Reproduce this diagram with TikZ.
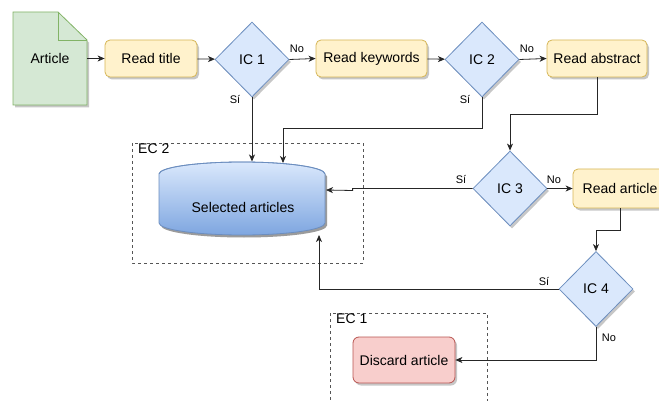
\documentclass[tikz,border=0pt]{standalone}
\usepackage{fontspec}
\setmainfont{Liberation Sans}
\usetikzlibrary{shapes.geometric,arrows.meta,shadows,calc}

\definecolor{notefill}{HTML}{D5E8D4}
\definecolor{notedraw}{HTML}{82B366}
\definecolor{procfill}{HTML}{FFF2CC}
\definecolor{procdraw}{HTML}{D6B656}
\definecolor{decfill}{HTML}{DAE8FC}
\definecolor{decdraw}{HTML}{6C8EBF}
\definecolor{dbbottom}{HTML}{7EA6E0}
\definecolor{redfill}{HTML}{F8CECC}
\definecolor{reddraw}{HTML}{B85450}
\definecolor{groupdraw}{HTML}{555555}

\tikzset{
  x=1pt, y=-1pt,
  shade/.style={drop shadow={shadow xshift=2pt, shadow yshift=-2.5pt, opacity=0.22, fill=black}},
  proc/.style={draw=procdraw, fill=procfill, rounded corners=5pt, line width=0.8pt,
    minimum height=37pt, inner sep=0pt, font=\fontsize{14}{16}\selectfont, shade},
  decision/.style={diamond, draw=decdraw, fill=decfill, line width=0.8pt,
    minimum width=74pt, minimum height=75pt, inner sep=0pt,
    font=\fontsize{14}{16}\selectfont, shade},
  discard/.style={draw=reddraw, fill=redfill, rounded corners=6pt, line width=0.8pt,
    minimum width=102pt, minimum height=46pt, inner sep=0pt,
    font=\fontsize{14}{16}\selectfont, shade},
  group/.style={draw=groupdraw, dashed, dash pattern=on 3pt off 3pt, line width=0.7pt},
  grouplabel/.style={anchor=north west, inner sep=0pt, font=\fontsize{14}{16}\selectfont},
  flow/.style={draw=black!85, line width=0.8pt, -{Stealth[length=7pt,width=6pt,inset=2pt]}},
  edgelabel/.style={inner sep=0pt, font=\fontsize{11}{12}\selectfont},
}

\begin{document}
\begin{tikzpicture}
\useasboundingbox (0,0) rectangle (659,401);

% ---- groups ----
\draw[group] (132,143) rectangle (363,263);
\node[grouplabel] (ec2) at (138,143.5) {EC 2};
\draw[group] (330,313) rectangle (487,420);
\node[grouplabel] (ec1) at (336,313.5) {EC 1};

% ---- document note ----
\draw[draw=notedraw, fill=notefill, line width=0.8pt, shade]
  (13,12) -- (58,12) -- (87,40) -- (87,105) -- (13,105) -- cycle;
\draw[draw=notedraw, line width=0.8pt] (58,12) -- (58,40) -- (87,40);
\node[minimum width=74pt, minimum height=93pt, inner sep=0pt,
      font=\fontsize{14}{16}\selectfont] (art) at (50,58.5) {\raisebox{0pt}{Article}};

% ---- process steps and decisions ----
\node[proc, minimum width=92pt] (rt) at (151,58.5) {Read title};
\node[decision] (ic1) at (252,59.5) {IC 1};
\node[proc, minimum width=111pt] (rk) at (371.5,58.5) {Read keywords};
\node[decision] (ic2) at (482,59.5) {IC 2};
\node[proc, minimum width=100pt] (ra) at (597,58.5) {Read abstract};
\node[decision] (ic3) at (510,188.5) {IC 3};
\node[proc, minimum width=94pt, minimum height=39pt] (rd) at (620,188.5) {Read article};
\node[decision] (ic4) at (596,289) {IC 4};
\node[discard] (dis) at (404,360) {Discard article};

% ---- database cylinder ----
\shade[top color=decfill, bottom color=dbbottom, drop shadow={shadow xshift=2pt, shadow yshift=-2.5pt, opacity=0.22, fill=black}]
  (159,174) -- (159,223) arc[start angle=180, end angle=360, x radius=83, y radius=-12]
  -- (325,174) arc[start angle=0, end angle=180, x radius=83, y radius=-12] -- cycle;
\draw[decdraw, line width=0.8pt]
  (159,174) -- (159,223) arc[start angle=180, end angle=360, x radius=83, y radius=-12]
  -- (325,174) arc[start angle=0, end angle=180, x radius=83, y radius=-12] -- cycle;
\draw[decdraw, line width=0.8pt]
  (159,174) arc[start angle=180, end angle=360, x radius=83, y radius=12];
\node[minimum width=166pt, minimum height=50pt, inner sep=0pt,
      font=\fontsize{14}{16}\selectfont] (sel) at (243,207) {Selected articles};

% attachment points on the cylinder
\coordinate (selT1) at (252,161.5);
\coordinate (selT2) at (283,163);
\coordinate (selR) at (326,190);
\coordinate (selB) at (319,235);

% ---- connectors ----
\draw[flow] (87,58.5) -- (rt.west);
\draw[flow] (rt) -- (ic1);
\draw[flow] (ic1.east) -- (rk.west);
\draw[flow] (rk) -- (ic2);
\draw[flow] (ic2.east) -- (ra.west);
\draw[flow] (ra.south) -- ++(0,37) -| (ic3.north);
\draw[flow] (ic1.south) -- (selT1);
\draw[flow] (ic2.south) -- ++(0,31) -| (selT2);
\draw[flow] (ic3.west) -- ++(-120,0) -- ++(0,2) -- (selR);
\draw[flow] (ic3.east) -- (rd.west);
\draw[flow] (rd.south) -- ++(0,22) -| (ic4.north);
\draw[flow] (ic4.west) -| (selB);
\draw[flow] (ic4.south) |- (dis.east);

% ---- branch labels ----
\node[edgelabel] (n1) at (297,49) {No};
\node[edgelabel] (s1) at (235,100) {Sí};
\node[edgelabel] (n2) at (527,49) {No};
\node[edgelabel] (s2) at (465,100) {Sí};
\node[edgelabel] (s3) at (461,180) {Sí};
\node[edgelabel] (n3) at (554,180) {No};
\node[edgelabel] (s4) at (544,282) {Sí};
\node[edgelabel] (n4) at (609,338) {No};
\end{tikzpicture}
\end{document}
